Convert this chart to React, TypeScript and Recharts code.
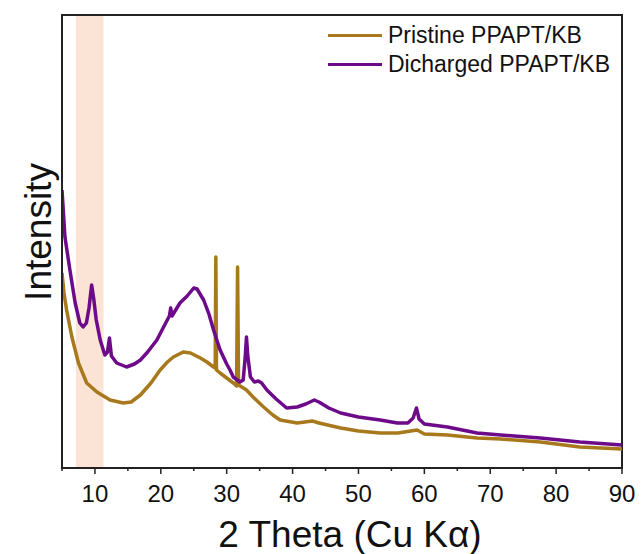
import { LineChart, Line, XAxis, YAxis, ReferenceArea, Label } from 'recharts';

const FONT = "Arial, 'Liberation Sans', sans-serif";
const GOLD = '#A8781C';
const PURPLE = '#6C0A8A';

// 2 theta ticks (every 5 deg, labels on the tens)
const xTicks = [5, 10, 15, 20, 25, 30, 35, 40, 45, 50, 55, 60, 65, 70, 75, 80, 85, 90];

// highlighted region
const bandStart = 7.1;
const bandEnd = 11.3;

// Pristine PPAPT/KB
const pristineTheta = [
  5.0, 5.3, 5.7, 6.5, 7.5, 8.75, 10.3, 12.3, 14.3, 15.5, 16.9, 18.5, 19.9, 21.0, 21.9, 23.4, 24.5, 26.0,
  27.0, 28.0, 28.25, 28.35, 28.45, 29.0, 30.0, 31.0, 31.5, 31.65, 31.8, 33.0, 34.0, 35.6, 37.0, 38.1,
  40.7, 43.0, 44.0, 47.3, 50.0, 53.3, 56.0, 58.9, 60.0, 63.5, 68.0, 71.6, 77.6, 83.6, 90.0,
];
const pristineIntensity = [
  195, 175, 158, 131, 105, 85, 76, 68, 65, 66, 73, 85, 98, 106, 111, 116, 115, 110,
  106, 101, 100, 211, 98, 95, 90, 85, 82, 201, 83, 78, 71, 61, 53, 48,
  45, 47, 45, 40, 37, 35, 35, 38, 34, 33, 30, 29, 26, 21, 19,
];

// Dicharged PPAPT/KB
const dischargedTheta = [
  5.0, 5.45, 6.2, 7.0, 7.7, 8.2, 8.7, 9.1, 9.5, 9.8, 10.2, 10.8, 11.5, 11.9, 12.2, 12.5, 13.3, 14.8,
  16.0, 16.9, 18.0, 19.4, 20.5, 21.3, 21.5, 21.7, 22.9, 24.0, 25.0, 25.5, 26.5, 27.3, 28.0, 29.0,
  30.0, 30.5, 31.0, 32.0, 32.5, 32.8, 33.0, 33.2, 33.6, 34.2, 34.8, 35.3, 36.1, 37.5, 39.1, 40.7,
  42.0, 43.3, 44.0, 45.5, 47.3, 50.0, 53.3, 55.9, 57.5, 58.3, 58.8, 59.2, 60.0, 63.5, 68.0, 71.6,
  77.6, 83.6, 90.0,
];
const dischargedIntensity = [
  278, 231, 198, 165, 145, 141, 145, 160, 183, 170, 148, 128, 113, 116, 130, 112, 105, 101,
  104, 108, 116, 128, 142, 152, 160, 152, 165, 172, 180, 179, 168, 154, 138, 118,
  104, 98, 91, 86, 88, 110, 131, 112, 91, 86, 87, 85, 78, 69, 60, 61,
  64, 68, 66, 60, 55, 51, 48, 45, 45, 50, 60, 49, 44, 41, 35, 33,
  30, 26, 23,
];

const pristineData = pristineTheta.map((x, i) => ({ x, y: pristineIntensity[i] }));
const dischargedData = dischargedTheta.map((x, i) => ({ x, y: dischargedIntensity[i] }));

const legendItems = [
  { name: 'Pristine PPAPT/KB', color: GOLD },
  { name: 'Dicharged PPAPT/KB', color: PURPLE },
];

function XTick(props: any) {
  const { x, y, payload } = props;
  const major = payload.value % 10 === 0;
  return (
    <g>
      <line x1={x} x2={x} y1={y} y2={y + (major ? 6 : 3)} stroke="#222" strokeWidth={1.5} />
      {major && (
        <text x={x} y={y + 34} textAnchor="middle" fontSize={24} fill="#111" fontFamily={FONT}>
          {payload.value}
        </text>
      )}
    </g>
  );
}

function ChartLegend() {
  return (
    <div style={{ position: 'absolute', left: 328, top: 21, fontFamily: FONT, fontSize: 23, color: '#111' }}>
      {legendItems.map((item) => (
        <div key={item.name} style={{ display: 'flex', alignItems: 'center', height: 29 }}>
          <span style={{ display: 'inline-block', width: 54, height: 3, background: item.color, marginRight: 6 }} />
          <span style={{ lineHeight: '29px', whiteSpace: 'nowrap' }}>{item.name}</span>
        </div>
      ))}
    </div>
  );
}

export default function App() {
  return (
    <div style={{ position: 'absolute', left: 0, top: 0, width: 642, height: 554, background: '#fff' }}>
      <LineChart width={642} height={554} margin={{ top: 15, right: 20, bottom: 0, left: 0 }}>
        <ReferenceArea x1={bandStart} x2={bandEnd} y1={0} y2={453} fill="#FBE3D5" fillOpacity={1} stroke="none" />
        <XAxis
          dataKey="x"
          type="number"
          domain={[5, 90]}
          ticks={xTicks}
          allowDataOverflow
          height={86}
          tickSize={0}
          tickMargin={0}
          tickLine={false}
          interval={0}
          tick={<XTick />}
          axisLine={{ stroke: '#222', strokeWidth: 2 }}
        >
          <Label
            content={() => (
              <text x={350} y={547} textAnchor="middle" fontSize={37} fill="#111" fontFamily={FONT}>
                2 Theta (Cu Kα)
              </text>
            )}
          />
        </XAxis>
        <YAxis
          type="number"
          domain={[0, 453]}
          allowDataOverflow
          width={62}
          tick={false}
          tickLine={false}
          axisLine={{ stroke: '#222', strokeWidth: 2 }}
        >
          <Label
            content={() => (
              <text
                x={51}
                y={232}
                transform="rotate(-90 51 232)"
                textAnchor="middle"
                fontSize={37}
                fill="#111"
                fontFamily={FONT}
              >
                Intensity
              </text>
            )}
          />
        </YAxis>
        <Line
          data={pristineData}
          dataKey="y"
          type="linear"
          stroke={GOLD}
          strokeWidth={3.5}
          strokeLinejoin="round"
          dot={false}
          isAnimationActive={false}
          name="Pristine PPAPT/KB"
        />
        <Line
          data={dischargedData}
          dataKey="y"
          type="linear"
          stroke={PURPLE}
          strokeWidth={3.5}
          strokeLinejoin="round"
          dot={false}
          isAnimationActive={false}
          name="Dicharged PPAPT/KB"
        />
        <ReferenceArea x1={5} x2={90} y1={0} y2={453} fill="none" stroke="#222" strokeWidth={2} />
      </LineChart>
      <ChartLegend />
    </div>
  );
}
